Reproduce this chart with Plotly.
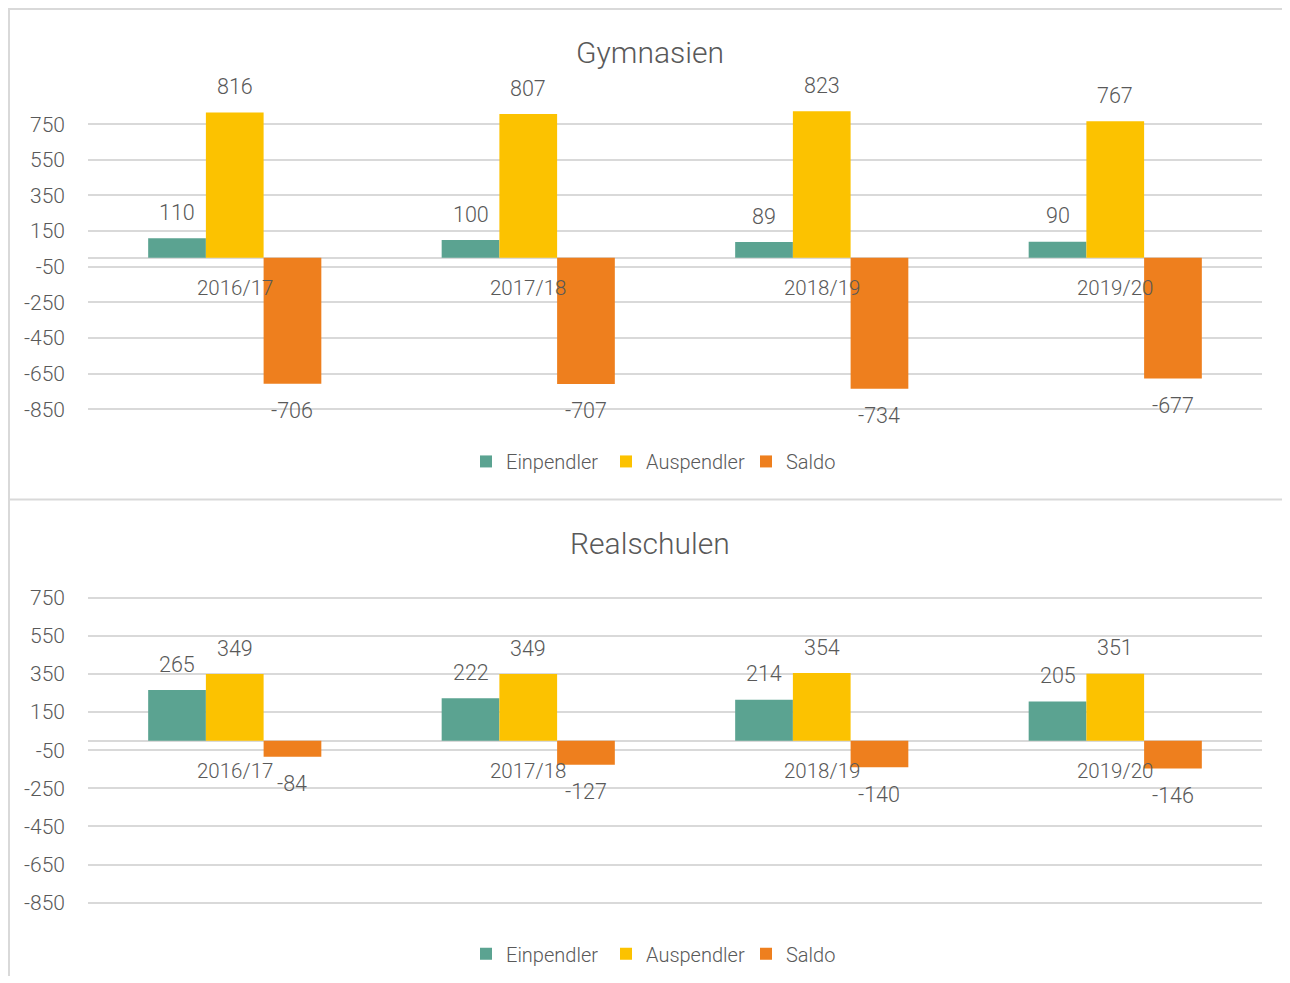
import plotly.graph_objects as go

# ---------------- data ----------------
categories = ["2016/17", "2017/18", "2018/19", "2019/20"]
series_names = ["Einpendler", "Auspendler", "Saldo"]

gym_einpendler = [110, 100, 89, 90]
gym_auspendler = [816, 807, 823, 767]
gym_saldo = [-706, -707, -734, -677]

real_einpendler = [265, 222, 214, 205]
real_auspendler = [349, 349, 354, 351]
real_saldo = [-84, -127, -140, -146]

tick_values = [750, 550, 350, 150, -50, -250, -450, -650, -850]
chart_titles = ["Gymnasien", "Realschulen"]

# ---------------- style ----------------
W, H = 1282, 977          # page adds an 8px body margin
OFF = 8
SY = 0.99                 # vertical scale observed in the capture
colors = ["#5BA391", "#FCC200", "#EE7F1E"]
txt = "#595959"
grid = "#D9D9D9"
FONT = "Roboto, 'DejaVu Sans Condensed', sans-serif"
WEIGHT = 300
bargap = 0.41
yrange = [-870, 900]


def px_x(p):
    return (p - OFF) / W


def px_y(p):
    return 1 - (p / SY - OFF) / H


fig = go.Figure()

panels = [
    ([gym_einpendler, gym_auspendler, gym_saldo], "x", "y", "legend"),
    ([real_einpendler, real_auspendler, real_saldo], "x2", "y2", "legend2"),
]

annotations = []
w = (1 - bargap) / 3
for p, (vals, xa, ya, lg) in enumerate(panels):
    for k, (name, v) in enumerate(zip(series_names, vals)):
        fig.add_trace(go.Bar(
            x=categories, y=v, name=name, xaxis=xa, yaxis=ya, legend=lg,
            marker=dict(color=colors[k], line=dict(width=0)),
            hoverinfo="x+y+name",
        ))
        for i, val in enumerate(v):
            annotations.append(dict(
                x=i + (k - 1) * w, y=val, xref=xa, yref=ya,
                text=str(val), showarrow=False, yanchor="middle",
                yshift=26 if val >= 0 else -27,
                font=dict(family=FONT, size=21.5, color=txt, weight=WEIGHT),
            ))
    for i, c in enumerate(categories):
        annotations.append(dict(
            x=i, y=0, xref=xa, yref=ya, text=c, showarrow=False,
            yanchor="middle", yshift=-30,
            font=dict(family=FONT, size=20.5, color=txt, weight=WEIGHT),
        ))

for t, yc in zip(chart_titles, [52, 543]):
    annotations.append(dict(x=px_x(650), y=px_y(yc), xref="paper", yref="paper",
                            text=t, showarrow=False, yanchor="middle",
                            font=dict(family=FONT, size=30, color=txt, weight=WEIGHT)))

xdom = [px_x(88), px_x(1262)]
xcommon = dict(type="category", showticklabels=False, showgrid=False,
               zeroline=False, showline=False, range=[-0.5, 3.5], domain=xdom,
               fixedrange=True)
ycommon = dict(range=yrange, tickvals=tick_values, ticktext=[str(v) for v in tick_values],
               showgrid=True, gridcolor=grid,
               gridwidth=2, zeroline=True, zerolinecolor=grid, zerolinewidth=2,
               showline=False, ticks="", ticklabelstandoff=22,
               tickfont=dict(family=FONT, size=21, color=txt, weight=WEIGHT), fixedrange=True)

shapes = [
    dict(type="line", xref="paper", yref="paper", x0=px_x(8), x1=1, y0=px_y(9), y1=px_y(9),
         line=dict(color=grid, width=2)),
    dict(type="line", xref="paper", yref="paper", x0=px_x(9), x1=px_x(9), y0=0, y1=px_y(8),
         line=dict(color=grid, width=2)),
    dict(type="line", xref="paper", yref="paper", x0=px_x(8), x1=1, y0=px_y(499), y1=px_y(499),
         line=dict(color=grid, width=2)),
]

legend_common = dict(orientation="h", xanchor="center", x=px_x(676), yanchor="middle",
                     font=dict(family=FONT, size=20, color=txt, weight=WEIGHT), itemwidth=30,
                     entrywidth=95, entrywidthmode="pixels",
                     bgcolor="rgba(0,0,0,0)", tracegroupgap=0, itemclick=False)

# plot-area extents (reference pixels) for range [-870, 900]
top_dom = [px_y(412.56), px_y(97.28)]
bot_dom = [px_y(905.8), px_y(568.4)]

fig.update_layout(
    width=W, height=H, margin=dict(l=0, r=0, t=0, b=0),
    paper_bgcolor="white", plot_bgcolor="white",
    barmode="group", bargap=bargap, bargroupgap=0,
    xaxis=dict(anchor="y", **xcommon),
    yaxis=dict(anchor="x", domain=top_dom, **ycommon),
    xaxis2=dict(anchor="y2", **xcommon),
    yaxis2=dict(anchor="x2", domain=bot_dom, **ycommon),
    legend=dict(y=px_y(461), **legend_common),
    legend2=dict(y=px_y(953), **legend_common),
    annotations=annotations,
    shapes=shapes,
    font=dict(family=FONT, color=txt),
)

fig.write_html("out.html")
